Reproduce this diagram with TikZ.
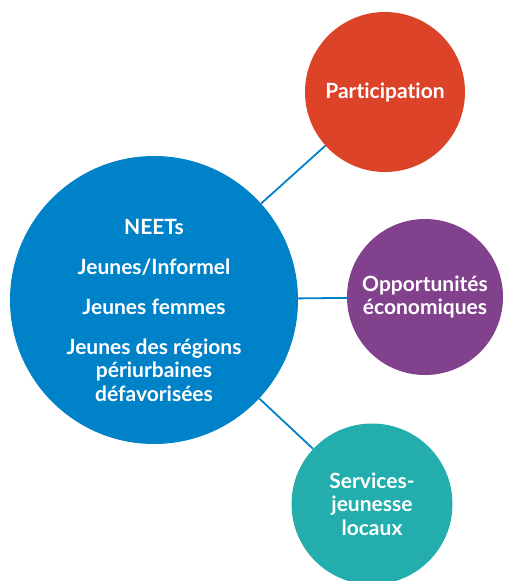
\documentclass[tikz,border=0pt]{standalone}
\usepackage{fontspec}
\setmainfont[Ligatures={NoCommon,NoRare}]{Lato}
\usetikzlibrary{positioning}
\definecolor{neet}{HTML}{0082C8}
\definecolor{part}{HTML}{DC4329}
\definecolor{eco}{HTML}{82418D}
\definecolor{serv}{HTML}{23ADAD}
\tikzset{
  bub/.style={circle, inner sep=0pt, text=white, align=center,
    font=\fontsize{21}{23.5}\selectfont\bfseries},
  lnk/.style={draw=neet, line width=1.8pt}}

\begin{document}
\begin{tikzpicture}[x=1pt,y=-1pt]
\useasboundingbox (0,0) rectangle (504,581);
\node[bub, fill=neet, minimum size=288pt] (neet) at (154,300) {};
\node[bub, fill=part, minimum size=160pt] (part) at (385,92) {Participation};
\node[bub, fill=eco, minimum size=156pt] (eco) at (425,297) {Opportunités\\économiques};
\node[bub, fill=serv, minimum size=161pt] (serv) at (372,504) {Services-\\jeunesse\\locaux};
\node[bub] (neettxt) at (154,310) {NEETs\\[16.5pt]Jeunes/Informel\\[16.5pt]Jeunes femmes\\[16.5pt]Jeunes des régions\\périurbaines\\défavorisées};
\foreach \t in {part, eco, serv}
  \draw[lnk] (neet) -- (\t);
\end{tikzpicture}
\end{document}
